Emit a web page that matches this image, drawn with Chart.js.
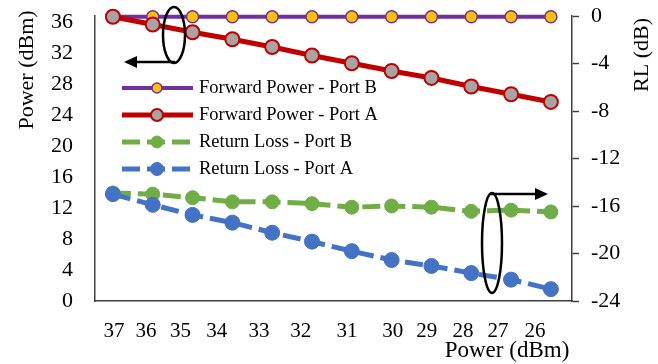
<!DOCTYPE html>
<html>
<head>
<meta charset="utf-8">
<script src="https://cdn.jsdelivr.net/npm/chart.js"></script>
<style>
  html, body { margin: 0; padding: 0; background: #fff; }
</style>
</head>
<body>
<canvas id="powerChart" width="658" height="364"></canvas>
<script>
// measurement steps (evenly spaced on the plot)
const steps = [0, 1, 2, 3, 4, 5, 6, 7, 8, 9, 10, 11];
// x tick labels and where they sit, in step units
const xTickLabels = ['37', '36', '35', '34', '33', '32', '31', '30', '29', '28', '27', '26'];
const xTickAt = [0.03, 0.83, 1.7, 2.61, 3.67, 4.72, 5.88, 7.03, 7.88, 8.79, 9.67, 10.6];
const leftTicks = [0, 4, 8, 12, 16, 20, 24, 28, 32, 36];

const fwdPortB = [36.7, 36.7, 36.7, 36.7, 36.7, 36.7, 36.7, 36.7, 36.7, 36.7, 36.7, 36.7];
const fwdPortA = [36.7, 35.7, 34.7, 33.8, 32.8, 31.7, 30.7, 29.7, 28.8, 27.7, 26.7, 25.7];
const rlPortB = [-14.9, -15.0, -15.3, -15.65, -15.65, -15.8, -16.1, -16.0, -16.1, -16.45, -16.35, -16.5];
const rlPortA = [-15.0, -15.9, -16.75, -17.4, -18.25, -19.0, -19.8, -20.55, -21.05, -21.65, -22.2, -23.0];

const serif = '"Liberation Serif", "Times New Roman", serif';
const axisColor = '#404040';

function pts(vals) {
  return steps.map((s, i) => ({ x: s, y: vals[i] }));
}

function noPad(scale) {
  scale.paddingTop = 0;
  scale.paddingBottom = 0;
  scale.paddingLeft = 0;
  scale.paddingRight = 0;
}

const extras = {
  id: 'extras',
  afterDraw(chart) {
    const ctx = chart.ctx;
    ctx.save();
    ctx.fillStyle = '#000';
    ctx.textBaseline = 'middle';

    // axis titles
    ctx.font = '22px ' + serif;
    ctx.textAlign = 'center';
    ctx.save(); ctx.translate(27, 70); ctx.rotate(-Math.PI / 2); ctx.fillText('Power (dBm)', 0, 0); ctx.restore();
    ctx.save(); ctx.translate(642, 55); ctx.rotate(-Math.PI / 2); ctx.fillText('RL (dB)', 0, 0); ctx.restore();
    ctx.font = '23px ' + serif;
    ctx.fillText('Power (dBm)', 507, 351);

    // legend
    ctx.font = '18.5px ' + serif;
    ctx.textAlign = 'left';
    const rows = [88, 115, 142, 169];
    chart.data.datasets.forEach((ds, i) => {
      const y = rows[i];
      ctx.save();
      ctx.strokeStyle = ds.borderColor;
      ctx.lineWidth = ds.borderWidth;
      ctx.setLineDash(ds.borderDash || []);
      ctx.beginPath(); ctx.moveTo(122, y); ctx.lineTo(193, y); ctx.stroke();
      ctx.setLineDash([]);
      ctx.beginPath(); ctx.arc(157, y, ds.pointRadius - 1, 0, Math.PI * 2);
      ctx.fillStyle = ds.pointBackgroundColor; ctx.fill();
      ctx.lineWidth = ds.pointBorderWidth; ctx.strokeStyle = ds.pointBorderColor; ctx.stroke();
      ctx.restore();
      ctx.fillText(ds.label, 199, y);
    });

    // ellipses + arrows pointing to each axis
    ctx.strokeStyle = '#000';
    ctx.fillStyle = '#000';
    ctx.lineWidth = 2.5;
    ctx.beginPath(); ctx.ellipse(174, 35, 11, 28, 0, 0, Math.PI * 2); ctx.stroke();
    ctx.beginPath(); ctx.moveTo(175, 62); ctx.lineTo(136, 62); ctx.stroke();
    ctx.beginPath(); ctx.moveTo(124, 62); ctx.lineTo(137, 56); ctx.lineTo(137, 68); ctx.closePath(); ctx.fill();

    ctx.beginPath(); ctx.ellipse(492, 243, 10, 50, 0, 0, Math.PI * 2); ctx.stroke();
    ctx.beginPath(); ctx.moveTo(490, 194); ctx.lineTo(536, 194); ctx.stroke();
    ctx.beginPath(); ctx.moveTo(548, 194); ctx.lineTo(535, 188); ctx.lineTo(535, 200); ctx.closePath(); ctx.fill();
    ctx.restore();
  }
};

const ctx = document.getElementById('powerChart').getContext('2d');
const chart = new Chart(ctx, {
  type: 'line',
  data: {
    datasets: [{
      label: 'Forward Power - Port B',
      data: pts(fwdPortB),
      yAxisID: 'y',
      borderColor: '#7030A0',
      borderWidth: 4,
      pointBackgroundColor: '#FFC000',
      pointBorderColor: '#7030A0',
      pointBorderWidth: 1.5,
      pointRadius: 6,
      order: 2,
      clip: false
    }, {
      label: 'Forward Power - Port A',
      data: pts(fwdPortA),
      yAxisID: 'y',
      borderColor: '#C00000',
      borderWidth: 5,
      pointBackgroundColor: '#A5A5A5',
      pointBorderColor: '#C00000',
      pointBorderWidth: 2,
      pointRadius: 7,
      order: 1,
      clip: false
    }, {
      label: 'Return Loss - Port B',
      data: pts(rlPortB),
      yAxisID: 'y1',
      borderColor: '#70AD47',
      borderWidth: 5,
      borderDash: [18, 7],
      pointBackgroundColor: '#70AD47',
      pointBorderColor: '#70AD47',
      pointBorderWidth: 1,
      pointRadius: 7,
      order: 2,
      clip: false
    }, {
      label: 'Return Loss - Port A',
      data: pts(rlPortA),
      yAxisID: 'y1',
      borderColor: '#4472C4',
      borderWidth: 5,
      borderDash: [18, 7],
      pointBackgroundColor: '#4472C4',
      pointBorderColor: '#4472C4',
      pointBorderWidth: 1,
      pointRadius: 7.5,
      order: 1,
      clip: false
    }]
  },
  options: {
    responsive: false,
    animation: false,
    devicePixelRatio: 1,
    layout: { padding: { top: 16, left: 0, right: 0, bottom: 0 } },
    plugins: {
      legend: { display: false },
      tooltip: { enabled: false }
    },
    scales: {
      x: {
        type: 'linear',
        min: -0.45,
        max: 11.53,
        afterBuildTicks: (scale) => { scale.ticks = xTickAt.map(v => ({ value: v })); },
        afterFit: (scale) => { scale.height = 63; noPad(scale); },
        grid: { drawOnChartArea: false, drawTicks: false },
        border: { color: axisColor, width: 1.5 },
        ticks: {
          autoSkip: false,
          maxRotation: 0,
          padding: 18,
          color: '#000',
          font: { family: serif, size: 21 },
          callback: (v, i) => xTickLabels[i]
        }
      },
      y: {
        position: 'left',
        min: 0,
        max: 36.8,
        afterBuildTicks: (scale) => { scale.ticks = leftTicks.map(v => ({ value: v })); },
        afterFit: (scale) => { scale.width = 95; noPad(scale); },
        grid: { drawOnChartArea: false, drawTicks: false },
        border: { color: axisColor, width: 1.5 },
        ticks: {
          padding: 22,
          color: '#000',
          font: { family: serif, size: 22 }
        }
      },
      y1: {
        position: 'right',
        min: -24,
        max: 0,
        afterFit: (scale) => { scale.width = 86; noPad(scale); },
        grid: { drawOnChartArea: false, drawTicks: true, tickLength: 7, color: axisColor, tickWidth: 1.5 },
        border: { color: axisColor, width: 1.5 },
        ticks: {
          stepSize: 4,
          padding: 12,
          color: '#000',
          font: { family: serif, size: 22 }
        }
      }
    }
  },
  plugins: [extras]
});
</script>
</body>
</html>
